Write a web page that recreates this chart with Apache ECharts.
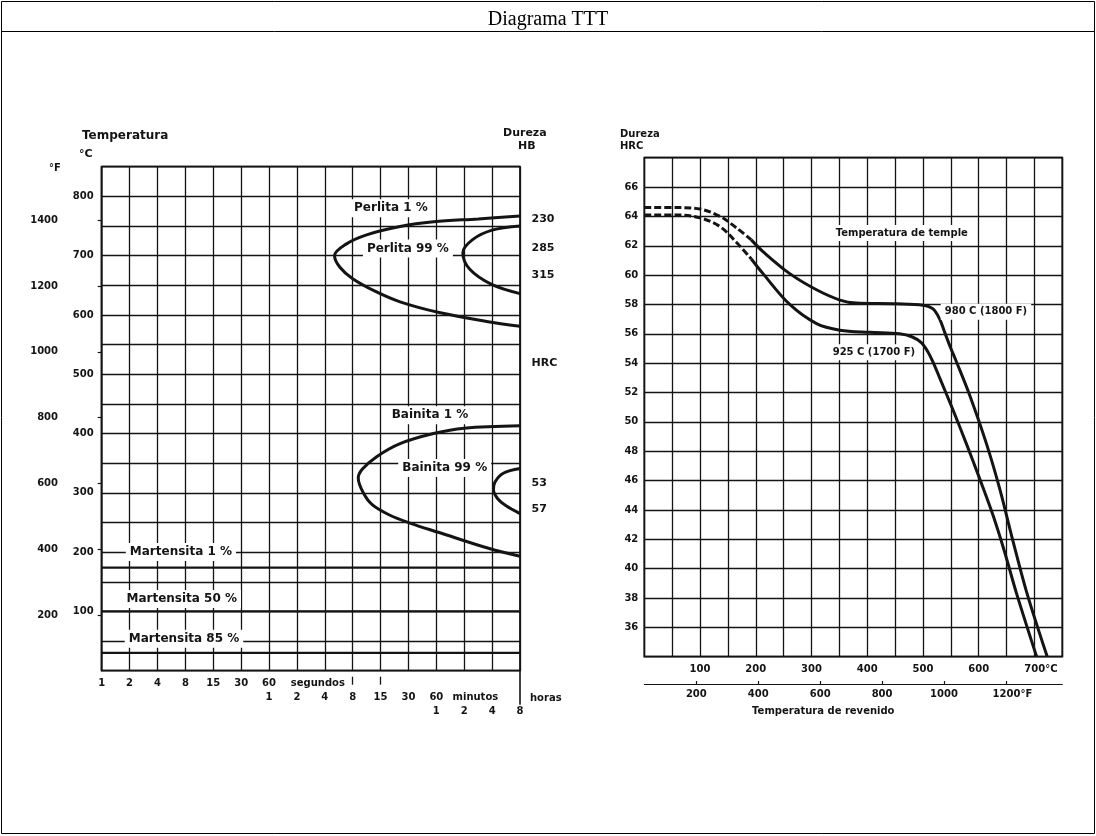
<!DOCTYPE html>
<html>
<head>
<meta charset="utf-8">
<title>Diagrama TTT</title>
<script src="https://cdn.jsdelivr.net/npm/echarts@6/dist/echarts.min.js"></script>
<style>
  html, body { margin: 0; padding: 0; background: #fff; }
  #chart { width: 1096px; height: 836px; }
</style>
</head>
<body>
<div id="chart"></div>
<script>
// ---- TTT diagram: time axis in grid steps (0 = 1 s, 6 = 1 min, 12 = 1 h, 15 = 8 h) ----
const secondLabels = ['1', '2', '4', '8', '15', '30', '60'];   // steps 0..6
const minuteLabels = ['1', '2', '4', '8', '15', '30', '60'];   // steps 6..12
const hourLabels = ['1', '2', '4', '8'];                        // steps 12..15
const tempCLabels = [100, 200, 300, 400, 500, 600, 700, 800];
const tempFLabels = [200, 400, 600, 800, 1000, 1200, 1400];

// transformation curves: [time step, temperature °C]
const perlita1 = [[15, 767], [13.5, 762], [11.9, 757], [10.7, 749], [9.5, 735], [8.75, 719], [8.35, 700],
  [8.55, 680], [9.0, 661], [9.8, 640], [10.7, 622], [12.1, 604], [13.8, 589], [15, 581]];
const perlita99 = [[15, 750], [14.0, 743], [13.3, 727], [12.95, 705], [13.2, 677], [14.0, 651], [15, 636]];
const bainita1 = [[15, 413], [13.0, 409], [11.9, 400], [10.7, 383], [9.86, 361], [9.35, 340], [9.2, 325],
  [9.38, 300], [9.7, 280], [10.3, 263], [11.05, 249], [12.1, 233], [13.9, 206], [15, 193]];
const bainita99 = [[15, 341], [14.4, 333], [14.1, 318], [14.05, 305], [14.2, 290], [14.5, 278], [15, 265]];
const martensiteTemps = [174, 100, 30];   // 1 %, 50 %, 85 %

// hardness reached at the end of transformation
const hbValues = ['230', '285', '315'];
const hbTemps = [761, 712, 667];
const hrcValues = ['53', '57'];
const hrcTemps = [316, 273];

// ---- tempering chart: [tempering temperature °C, hardness HRC] ----
const tempCTicks = [100, 200, 300, 400, 500, 600, 700];
const tempFTicks = [200, 400, 600, 800, 1000, 1200];
const hrcTicks = [36, 38, 40, 42, 44, 46, 48, 50, 52, 54, 56, 58, 60, 62, 64, 66];

const temple980Dashed = [[0, 64.6], [60, 64.6], [100, 64.5], [136, 64.0], [166, 63.2], [192, 62.4]];
const temple980 = [[192, 62.4], [213, 61.6], [261, 60.1], [309, 59.0], [351, 58.3], [380, 58.1],
  [453, 58.05], [500, 57.95], [518, 57.7], [530, 57.0], [539, 56.1], [549, 55.1], [560, 54.1],
  [584, 51.8], [614, 48.5], [638, 45.4], [660, 42.1], [686, 38.4], [723, 34.0]];
const temple925Dashed = [[0, 64.1], [60, 64.1], [100, 63.9], [136, 63.3], [166, 62.2], [192, 61.1]];
const temple925 = [[192, 61.1], [213, 60.1], [261, 58.0], [309, 56.7], [351, 56.25], [405, 56.1],
  [458, 56.0], [480, 55.8], [497, 55.4], [510, 54.7], [520, 53.9], [530, 53.0], [554, 50.8],
  [578, 48.5], [602, 46.1], [626, 43.6], [646, 41.2], [668, 38.3], [704, 34.0]];

const c2f = c => c * 9 / 5 + 32;

// ---- layout ----
const LG = { left: 101.7, top: 166.7, width: 418.3, height: 504 };
const RG = { left: 644.3, top: 157.7, width: 418, height: 499 };
const INK = '#141414';
const FONT = 'DejaVu Sans';
const txt = { fontFamily: FONT, fontSize: 10, fontWeight: 'bold', color: INK };
const txtL = { fontFamily: FONT, fontSize: 11, fontWeight: 'bold', color: INK };
const gridLine = { show: true, lineStyle: { color: INK, width: 1.3 } };

function curve(name, data, xi, width, dashed) {
  return {
    name, type: 'line', data, xAxisIndex: xi, yAxisIndex: xi === 0 ? 0 : 2,
    smooth: 0.35, symbol: 'none', silent: true, clip: true,
    lineStyle: { color: INK, width, type: dashed ? [7, 3] : 'solid', cap: 'butt' },
    z: 5
  };
}

function notes(xi, yi, items, labelStyle) {
  return {
    type: 'scatter', xAxisIndex: xi, yAxisIndex: yi, symbolSize: 1, silent: true,
    itemStyle: { color: 'rgba(0,0,0,0)', opacity: 1 },
    data: items.map(it => ({ value: it.at, label: { formatter: it.text } })),
    label: Object.assign({ show: true, opacity: 1, position: 'inside',
      backgroundColor: '#fff', padding: [3, 4] }, labelStyle),
    z: 6
  };
}

const series = [
  curve('Perlita 1 %', perlita1, 0, 3),
  curve('Perlita 99 %', perlita99, 0, 3),
  curve('Bainita 1 %', bainita1, 0, 3),
  curve('Bainita 99 %', bainita99, 0, 3),
  ...martensiteTemps.map(t => ({
    type: 'line', xAxisIndex: 0, yAxisIndex: 0, symbol: 'none', silent: true,
    data: [[0, t], [15, t]], lineStyle: { color: INK, width: 2.2 }, z: 4
  })),
  notes(0, 0, [
    { at: [10.37, 780], text: 'Perlita 1 %' },
    { at: [10.98, 712], text: 'Perlita 99 %' },
    { at: [11.77, 431], text: 'Bainita 1 %' },
    { at: [12.3, 342], text: 'Bainita 99 %' },
    { at: [2.84, 200], text: 'Martensita 1 %' },
    { at: [2.87, 121], text: 'Martensita 50 %' },
    { at: [2.95, 54], text: 'Martensita 85 %' }
  ], { ...txtL, fontSize: 12 }),
  notes(0, 0, hbValues.map((v, i) => ({ at: [15, hbTemps[i]], text: v }))
    .concat([{ at: [15, 519], text: 'HRC' }])
    .concat(hrcValues.map((v, i) => ({ at: [15, hrcTemps[i]], text: v }))),
    { ...txtL, position: 'right', distance: 11, backgroundColor: 'transparent', padding: 0 }),

  curve('980 C dashed', temple980Dashed, 4, 3, true),
  curve('980 C', temple980, 4, 3),
  curve('925 C dashed', temple925Dashed, 4, 3, true),
  curve('925 C', temple925, 4, 3),
  notes(4, 2, [
    { at: [462, 62.87], text: 'Temperatura de temple' },
    { at: [613, 57.5], text: '980 C (1800 F)' },
    { at: [412, 54.75], text: '925 C (1700 F)' }
  ], txt)
];

const rowAxis = (offset, values, fmt, extra) => Object.assign({
  type: 'value', gridIndex: 0, position: 'bottom', offset, min: 0, max: 15,
  axisLine: { show: false }, axisTick: { show: false }, splitLine: { show: false },
  axisLabel: { ...txt, margin: 8, customValues: values, formatter: fmt }
}, extra || {});

const option = {
  animation: false,
  backgroundColor: '#fff',
  title: {
    text: 'Diagrama TTT', left: 'center', top: 5,
    textStyle: { fontFamily: 'Liberation Serif', fontSize: 20, fontWeight: 'normal', color: '#000' }
  },
  grid: [
    Object.assign({ show: true, borderColor: INK, borderWidth: 1.8 }, LG),
    Object.assign({ show: true, borderColor: INK, borderWidth: 1.8 }, RG)
  ],
  xAxis: [
    // time grid
    { type: 'value', gridIndex: 0, min: 0, max: 15, interval: 1, splitLine: gridLine,
      axisLine: { show: false }, axisTick: { show: false }, axisLabel: { show: false } },
    rowAxis(0, [0, 1, 2, 3, 4, 5, 6, 7.75],
      v => v <= 6 ? secondLabels[v] : 'segundos',
      { axisTick: { show: true, customValues: [15], length: 34, lineStyle: { color: INK, width: 1.6 } } }),
    rowAxis(14, [6, 7, 8, 9, 10, 11, 12, 13.4],
      v => v <= 12 ? minuteLabels[v - 6] : 'minutos',
      { axisTick: { show: true, customValues: [9, 10], length: 8, inside: true, lineStyle: { color: INK, width: 1.3 } } }),
    rowAxis(28, [12, 13, 14, 15], v => hourLabels[v - 12],
      { name: 'horas', nameLocation: 'end', nameGap: 10,
        nameTextStyle: { ...txt, padding: [26, 0, 0, 0] } }),
    // tempering temperature °C
    { type: 'value', gridIndex: 1, min: 0, max: 750, interval: 50, splitLine: gridLine,
      axisLine: { show: false }, axisTick: { show: false },
      axisLabel: { ...txt, margin: 8, customValues: tempCTicks,
        formatter: v => v === 700 ? '{p|}700{u|°C}' : String(v),
        rich: { p: { width: 13 }, u: { ...txt } } } },
    // tempering temperature °F
    { type: 'value', gridIndex: 1, position: 'bottom', offset: 27.3, min: c2f(0), max: c2f(750),
      splitLine: { show: false },
      axisLine: { show: true, lineStyle: { color: INK, width: 1 } },
      axisTick: { show: true, customValues: tempFTicks, length: 3, inside: true, lineStyle: { color: INK, width: 1.2 } },
      axisLabel: { ...txt, margin: 5, customValues: tempFTicks,
        formatter: v => v === 1200 ? '{p|}1200{u|°F}' : String(v),
        rich: { p: { width: 13 }, u: { ...txt } } },
      name: 'Temperatura de revenido', nameLocation: 'middle', nameGap: 22,
      nameTextStyle: { ...txt, padding: [0, 60, 0, 0] } }
  ],
  yAxis: [
    // temperature °C
    { type: 'value', gridIndex: 0, min: 0, max: 850, interval: 50, splitLine: gridLine,
      axisLine: { show: false }, axisTick: { show: false },
      axisLabel: { ...txt, margin: 8, customValues: tempCLabels } },
    // temperature °F
    { type: 'value', gridIndex: 0, position: 'left', offset: LG.left - 65, min: c2f(0), max: c2f(850),
      splitLine: { show: false },
      axisLine: { show: true, lineStyle: { color: INK, width: 1.4 } },
      axisTick: { show: true, customValues: tempFLabels, length: 4, lineStyle: { color: INK, width: 1.2 } },
      axisLabel: { ...txt, margin: 7, customValues: tempFLabels, formatter: v => String(v) } },
    // hardness HRC
    { type: 'value', gridIndex: 1, min: 34, max: 68, interval: 2, splitLine: gridLine,
      axisLine: { show: false }, axisTick: { show: false },
      axisLabel: { ...txt, margin: 6, customValues: hrcTicks } }
  ],
  graphic: [
    // document frame and title row
    { type: 'rect', shape: { x: 1.5, y: 1.5, width: 1093, height: 832 }, style: { fill: 'none', stroke: '#000', lineWidth: 1 }, silent: true },
    { type: 'line', shape: { x1: 1.5, y1: 31.5, x2: 1094.5, y2: 31.5 }, style: { stroke: '#000', lineWidth: 1 }, silent: true },
    // axis headings
    { type: 'text', left: 82, top: 130, style: { text: 'Temperatura', font: 'bold 12px ' + FONT, fill: INK } },
    { type: 'text', left: 79, top: 149, style: { text: '°C', font: 'bold 11px ' + FONT, fill: INK } },
    { type: 'text', left: 49, top: 163, style: { text: '°F', font: 'bold 10px ' + FONT, fill: INK } },
    { type: 'text', left: 503, top: 128, style: { text: 'Dureza', font: 'bold 11px ' + FONT, fill: INK } },
    { type: 'text', left: 518, top: 141, style: { text: 'HB', font: 'bold 11px ' + FONT, fill: INK } },
    { type: 'text', left: 620, top: 129, style: { text: 'Dureza', font: 'bold 10px ' + FONT, fill: INK } },
    { type: 'text', left: 620, top: 141, style: { text: 'HRC', font: 'bold 10px ' + FONT, fill: INK } }
  ],
  series
};

const chart = echarts.init(document.getElementById('chart'), null, { renderer: 'canvas' });
chart.setOption(option);
</script>
</body>
</html>
